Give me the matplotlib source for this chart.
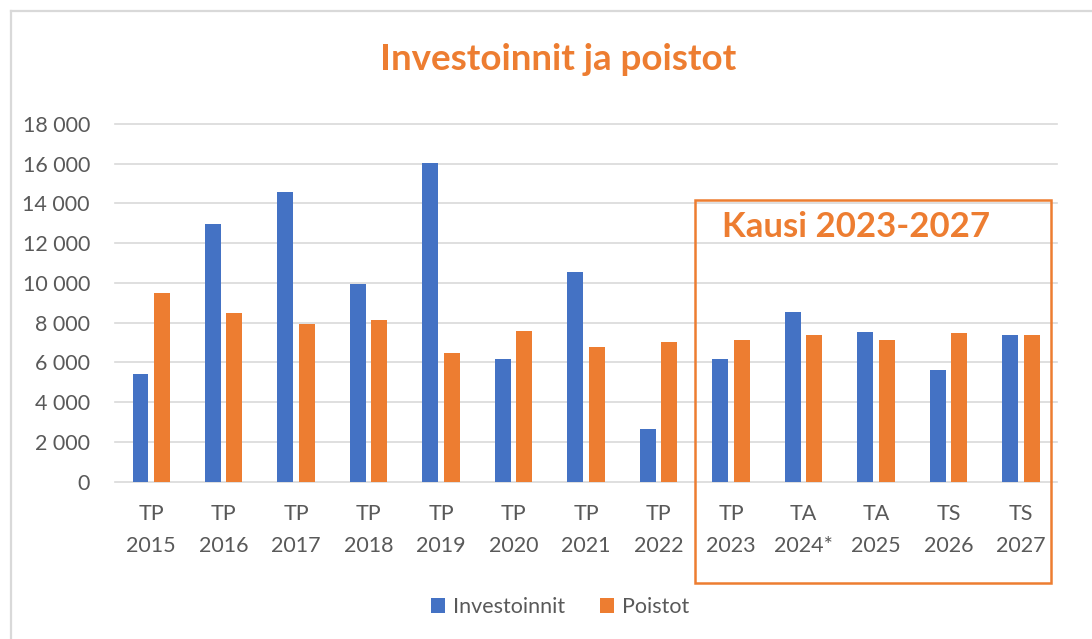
import numpy as np
import matplotlib
matplotlib.use('Agg')
import matplotlib.pyplot as plt
from matplotlib.patches import Rectangle
from matplotlib.lines import Line2D

plt.rcParams['font.family'] = ['Lato', 'DejaVu Sans']

vuodet = ['TP\n2015', 'TP\n2016', 'TP\n2017', 'TP\n2018', 'TP\n2019', 'TP\n2020',
          'TP\n2021', 'TP\n2022', 'TP\n2023', 'TA\n2024*', 'TA\n2025', 'TS\n2026', 'TS\n2027']
investoinnit = [5430, 12950, 14600, 9950, 16050, 6170, 10550, 2630, 6150, 8530, 7520, 5640, 7380]
poistot = [9500, 8500, 7950, 8130, 6450, 7600, 6780, 7050, 7120, 7380, 7120, 7460, 7380]
y_ticks = [0, 2000, 4000, 6000, 8000, 10000, 12000, 14000, 16000, 18000]

SININEN = '#4472C4'
ORANSSI = '#ED7D31'
HARMAA = '#595959'

fig = plt.figure(figsize=(10.92, 6.39), dpi=100)
ax = fig.add_axes([0.1053, 0.2462, 0.8627, 0.5598])

x = np.arange(len(vuodet))
ax.bar(x - 0.148, investoinnit, width=0.22, color=SININEN, label='Investoinnit', zorder=3)
ax.bar(x + 0.148, poistot, width=0.22, color=ORANSSI, label='Poistot', zorder=3)

ax.set_xlim(-0.5, len(vuodet) - 0.5)
ax.set_ylim(0, 18000)
ax.set_yticks(y_ticks)
ax.set_yticklabels([f'{v:,}'.replace(',', ' ') for v in y_ticks])
ax.set_xticks(x)
ax.set_xticklabels(vuodet, linespacing=1.75)

ax.grid(axis='y', color='#D9D9D9', linewidth=1.2, zorder=0)
for s in ax.spines.values():
    s.set_visible(False)
ax.tick_params(axis='both', length=0, labelsize=15.5, colors=HARMAA)
ax.tick_params(axis='y', pad=18)
ax.tick_params(axis='x', pad=16)
for gl in ax.get_ygridlines():
    gl.set_clip_on(False)

fig.text(0.5115, 0.907, 'Investoinnit ja poistot', ha='center', va='center',
         fontsize=26.5, fontweight='bold', color=ORANSSI)

# kehys koko kuvan ympärillä
fig.add_artist(Line2D([0.0101, 0.0101], [0, 0.983], color='#D9D9D9', linewidth=1.6))
fig.add_artist(Line2D([0.0101, 1.0], [0.983, 0.983], color='#D9D9D9', linewidth=1.6))

# kausi 2023-2027 laatikko
fig.add_artist(Rectangle((0.6364, 0.0876), 0.3261, 0.5994, transform=fig.transFigure,
                         fill=False, edgecolor=ORANSSI, linewidth=1.8))
fig.text(0.661, 0.645, 'Kausi 2023-2027', ha='left', va='center',
         fontsize=25, fontweight='bold', color=ORANSSI)

fig.legend(loc='center', bbox_to_anchor=(0.513, 0.05), ncol=2, frameon=False,
           fontsize=15.5, labelcolor=HARMAA, handlelength=0.65, handleheight=0.65,
           handletextpad=0.4, columnspacing=1.6)

fig.savefig('out.png', dpi=100, facecolor='white')
